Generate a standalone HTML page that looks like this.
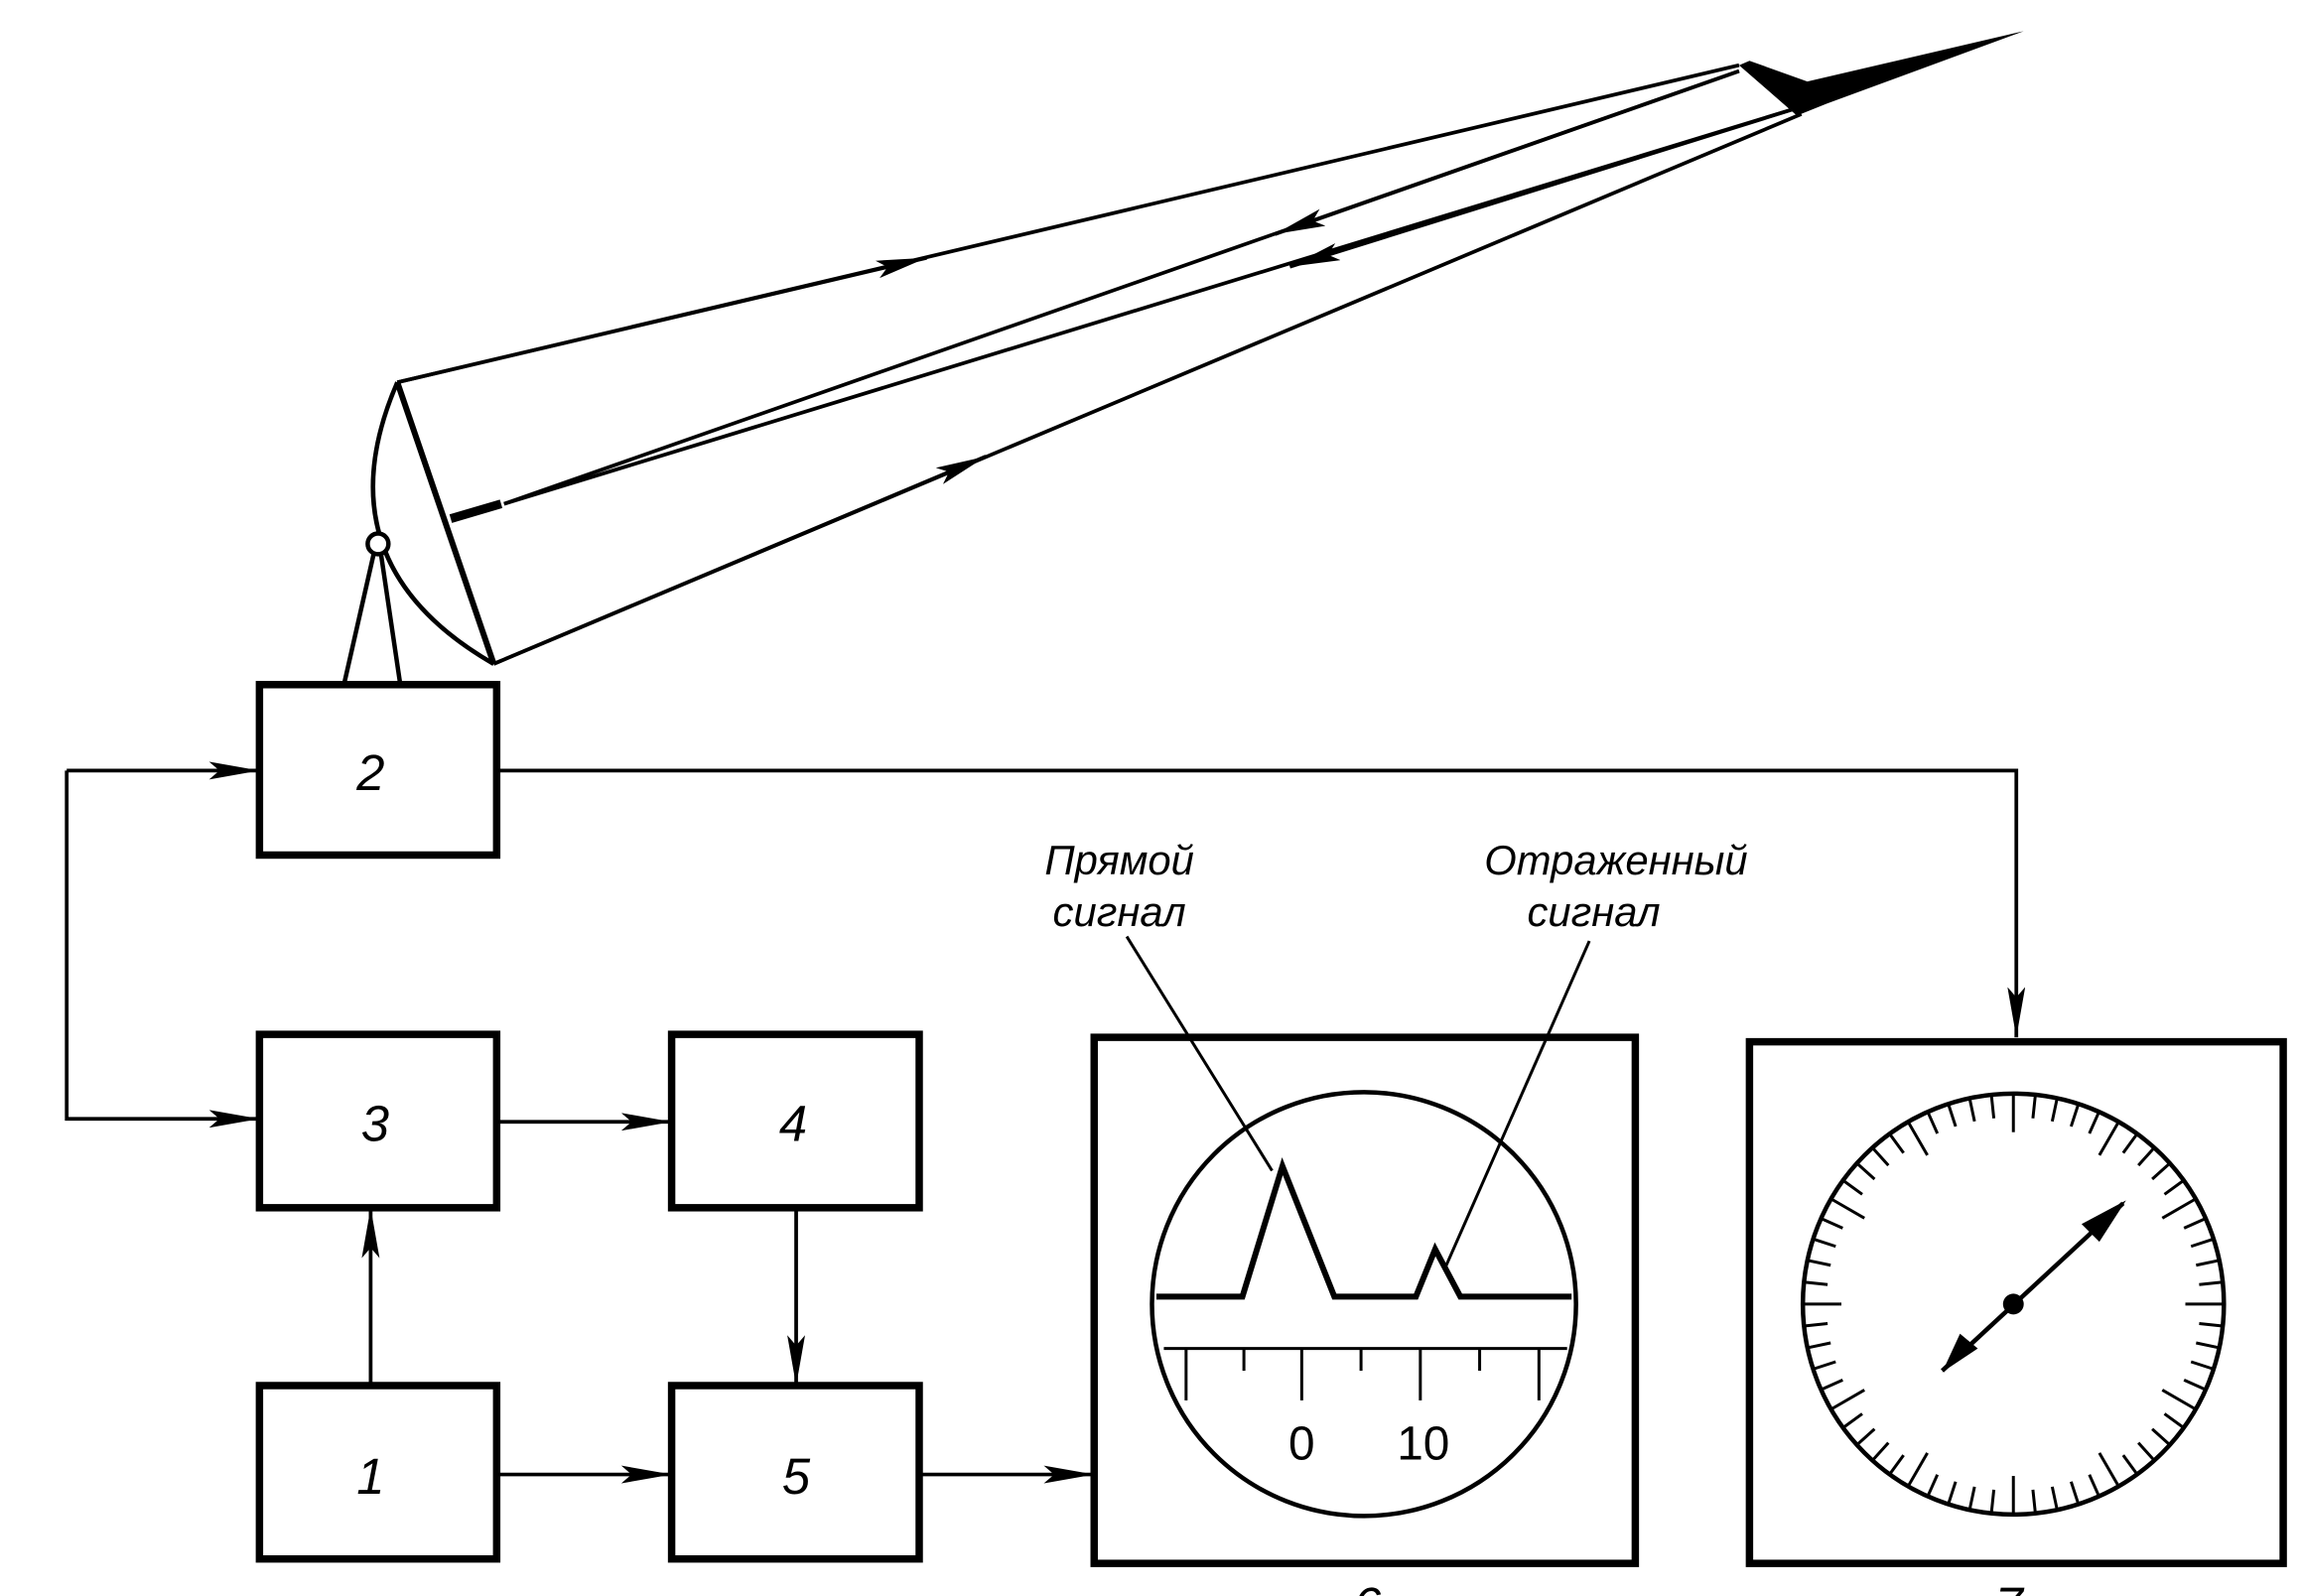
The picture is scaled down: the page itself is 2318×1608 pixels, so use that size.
<!DOCTYPE html>
<html><head><meta charset="utf-8"><style>html,body{margin:0;padding:0;background:#fff;overflow:hidden}svg{display:block}</style></head>
<body>
<svg width="2318" height="1608" viewBox="0 0 1552 1077" preserveAspectRatio="none" xmlns="http://www.w3.org/2000/svg">
<defs>
<marker id="a" viewBox="0 0 34 12" refX="34" refY="6" markerWidth="34" markerHeight="12" markerUnits="userSpaceOnUse" orient="auto">
<path d="M0,0 L34,6 L0,12 L7,6 Z" fill="#000"/></marker>
</defs>
<g fill="none" stroke="#000">
<g stroke-width="5">
<rect x="175" y="462" width="160" height="115"/>
<rect x="175" y="698" width="160" height="117"/>
<rect x="453" y="698" width="167" height="117"/>
<rect x="175" y="935" width="160" height="117"/>
<rect x="453" y="935" width="167" height="117"/>
<rect x="738" y="700" width="365" height="355"/>
<rect x="1180" y="703" width="360" height="352"/>
</g>
<g stroke-width="2.5">
<polyline points="335,520 1360,520 1360,700" marker-end="url(#a)"/>
<polyline points="45,520 175,520" marker-end="url(#a)"/>
<polyline points="45,520 45,755 175,755" marker-end="url(#a)"/>
<line x1="335" y1="757" x2="453" y2="757" marker-end="url(#a)"/>
<line x1="537" y1="815" x2="537" y2="935" marker-end="url(#a)"/>
<line x1="250" y1="935" x2="250" y2="815" marker-end="url(#a)"/>
<line x1="335" y1="995" x2="453" y2="995" marker-end="url(#a)"/>
<line x1="620" y1="995" x2="738" y2="995" marker-end="url(#a)"/>
<line x1="268" y1="258" x2="1173" y2="44"/>
<line x1="333" y1="448" x2="1215" y2="77"/>
<line x1="340" y1="340" x2="1173" y2="48"/>
<line x1="340" y1="340" x2="1215" y2="72"/>
<line x1="268" y1="258" x2="625" y2="174" marker-end="url(#a)"/>
<line x1="333" y1="448" x2="665" y2="308" marker-end="url(#a)"/>
<line x1="1173" y1="48" x2="860" y2="158" marker-end="url(#a)"/>
<line x1="1215" y1="72" x2="870" y2="180" marker-end="url(#a)"/>
</g>
<line x1="268" y1="258" x2="333" y2="448" stroke-width="4"/>
<path d="M268,258 Q215,380 333,448" stroke-width="3"/>
<circle cx="255" cy="367" r="7" stroke-width="3" fill="#fff"/>
<line x1="252" y1="374" x2="232" y2="462" stroke-width="3"/>
<line x1="257" y1="374" x2="270" y2="462" stroke-width="3"/>
<line x1="304" y1="350" x2="338" y2="340" stroke-width="6"/>
<circle cx="920" cy="880" r="143" stroke-width="3"/>
<polyline points="780,875 838,875 865,787 900,875 955,875 968,843 985,875 1060,875" stroke-width="4"/>
<line x1="785" y1="910" x2="1057" y2="910" stroke-width="2"/>
<g stroke-width="2">
<line x1="800" y1="910" x2="800" y2="945"/><line x1="839" y1="910" x2="839" y2="925"/>
<line x1="878" y1="910" x2="878" y2="945"/><line x1="918" y1="910" x2="918" y2="925"/>
<line x1="958" y1="910" x2="958" y2="945"/><line x1="998" y1="910" x2="998" y2="925"/>
<line x1="1038" y1="910" x2="1038" y2="945"/>
</g>
<line x1="760" y1="632" x2="858" y2="790" stroke-width="2"/>
<line x1="1072" y1="635" x2="975" y2="855" stroke-width="2"/>
<circle cx="1358" cy="880" r="142" stroke-width="3"/>
<g stroke-width="2">
<line x1="1358" y1="738" x2="1358" y2="764" transform="rotate(0 1358 880)"/>
<line x1="1358" y1="738" x2="1358" y2="754" transform="rotate(6 1358 880)"/>
<line x1="1358" y1="738" x2="1358" y2="754" transform="rotate(12 1358 880)"/>
<line x1="1358" y1="738" x2="1358" y2="754" transform="rotate(18 1358 880)"/>
<line x1="1358" y1="738" x2="1358" y2="754" transform="rotate(24 1358 880)"/>
<line x1="1358" y1="738" x2="1358" y2="764" transform="rotate(30 1358 880)"/>
<line x1="1358" y1="738" x2="1358" y2="754" transform="rotate(36 1358 880)"/>
<line x1="1358" y1="738" x2="1358" y2="754" transform="rotate(42 1358 880)"/>
<line x1="1358" y1="738" x2="1358" y2="754" transform="rotate(48 1358 880)"/>
<line x1="1358" y1="738" x2="1358" y2="754" transform="rotate(54 1358 880)"/>
<line x1="1358" y1="738" x2="1358" y2="764" transform="rotate(60 1358 880)"/>
<line x1="1358" y1="738" x2="1358" y2="754" transform="rotate(66 1358 880)"/>
<line x1="1358" y1="738" x2="1358" y2="754" transform="rotate(72 1358 880)"/>
<line x1="1358" y1="738" x2="1358" y2="754" transform="rotate(78 1358 880)"/>
<line x1="1358" y1="738" x2="1358" y2="754" transform="rotate(84 1358 880)"/>
<line x1="1358" y1="738" x2="1358" y2="764" transform="rotate(90 1358 880)"/>
<line x1="1358" y1="738" x2="1358" y2="754" transform="rotate(96 1358 880)"/>
<line x1="1358" y1="738" x2="1358" y2="754" transform="rotate(102 1358 880)"/>
<line x1="1358" y1="738" x2="1358" y2="754" transform="rotate(108 1358 880)"/>
<line x1="1358" y1="738" x2="1358" y2="754" transform="rotate(114 1358 880)"/>
<line x1="1358" y1="738" x2="1358" y2="764" transform="rotate(120 1358 880)"/>
<line x1="1358" y1="738" x2="1358" y2="754" transform="rotate(126 1358 880)"/>
<line x1="1358" y1="738" x2="1358" y2="754" transform="rotate(132 1358 880)"/>
<line x1="1358" y1="738" x2="1358" y2="754" transform="rotate(138 1358 880)"/>
<line x1="1358" y1="738" x2="1358" y2="754" transform="rotate(144 1358 880)"/>
<line x1="1358" y1="738" x2="1358" y2="764" transform="rotate(150 1358 880)"/>
<line x1="1358" y1="738" x2="1358" y2="754" transform="rotate(156 1358 880)"/>
<line x1="1358" y1="738" x2="1358" y2="754" transform="rotate(162 1358 880)"/>
<line x1="1358" y1="738" x2="1358" y2="754" transform="rotate(168 1358 880)"/>
<line x1="1358" y1="738" x2="1358" y2="754" transform="rotate(174 1358 880)"/>
<line x1="1358" y1="738" x2="1358" y2="764" transform="rotate(180 1358 880)"/>
<line x1="1358" y1="738" x2="1358" y2="754" transform="rotate(186 1358 880)"/>
<line x1="1358" y1="738" x2="1358" y2="754" transform="rotate(192 1358 880)"/>
<line x1="1358" y1="738" x2="1358" y2="754" transform="rotate(198 1358 880)"/>
<line x1="1358" y1="738" x2="1358" y2="754" transform="rotate(204 1358 880)"/>
<line x1="1358" y1="738" x2="1358" y2="764" transform="rotate(210 1358 880)"/>
<line x1="1358" y1="738" x2="1358" y2="754" transform="rotate(216 1358 880)"/>
<line x1="1358" y1="738" x2="1358" y2="754" transform="rotate(222 1358 880)"/>
<line x1="1358" y1="738" x2="1358" y2="754" transform="rotate(228 1358 880)"/>
<line x1="1358" y1="738" x2="1358" y2="754" transform="rotate(234 1358 880)"/>
<line x1="1358" y1="738" x2="1358" y2="764" transform="rotate(240 1358 880)"/>
<line x1="1358" y1="738" x2="1358" y2="754" transform="rotate(246 1358 880)"/>
<line x1="1358" y1="738" x2="1358" y2="754" transform="rotate(252 1358 880)"/>
<line x1="1358" y1="738" x2="1358" y2="754" transform="rotate(258 1358 880)"/>
<line x1="1358" y1="738" x2="1358" y2="754" transform="rotate(264 1358 880)"/>
<line x1="1358" y1="738" x2="1358" y2="764" transform="rotate(270 1358 880)"/>
<line x1="1358" y1="738" x2="1358" y2="754" transform="rotate(276 1358 880)"/>
<line x1="1358" y1="738" x2="1358" y2="754" transform="rotate(282 1358 880)"/>
<line x1="1358" y1="738" x2="1358" y2="754" transform="rotate(288 1358 880)"/>
<line x1="1358" y1="738" x2="1358" y2="754" transform="rotate(294 1358 880)"/>
<line x1="1358" y1="738" x2="1358" y2="764" transform="rotate(300 1358 880)"/>
<line x1="1358" y1="738" x2="1358" y2="754" transform="rotate(306 1358 880)"/>
<line x1="1358" y1="738" x2="1358" y2="754" transform="rotate(312 1358 880)"/>
<line x1="1358" y1="738" x2="1358" y2="754" transform="rotate(318 1358 880)"/>
<line x1="1358" y1="738" x2="1358" y2="754" transform="rotate(324 1358 880)"/>
<line x1="1358" y1="738" x2="1358" y2="764" transform="rotate(330 1358 880)"/>
<line x1="1358" y1="738" x2="1358" y2="754" transform="rotate(336 1358 880)"/>
<line x1="1358" y1="738" x2="1358" y2="754" transform="rotate(342 1358 880)"/>
<line x1="1358" y1="738" x2="1358" y2="754" transform="rotate(348 1358 880)"/>
<line x1="1358" y1="738" x2="1358" y2="754" transform="rotate(354 1358 880)"/>
</g>
<line x1="1310" y1="925" x2="1432" y2="812" stroke-width="3"/>
</g>
<path d="M1310,926 L1322,900 L1334,910 Z" fill="#000"/>
<path d="M1434,810 L1404,826 L1416,838 Z" fill="#000"/>
<circle cx="1358" cy="880" r="7" fill="#000"/>
<path d="M1173,44 L1180,41 L1219,55 L1365,21 L1232,70 L1212,78 Z" fill="#000"/>
<g font-family="'Liberation Sans', sans-serif" font-style="italic" fill="#000">
<text x="250" y="533" font-size="34" text-anchor="middle">2</text>
<text x="253" y="770" font-size="34" text-anchor="middle">3</text>
<text x="535" y="770" font-size="34" text-anchor="middle">4</text>
<text x="250" y="1008" font-size="34" text-anchor="middle">1</text>
<text x="537" y="1008" font-size="34" text-anchor="middle">5</text>
<text x="755" y="590" font-size="28" text-anchor="middle">Прямой</text>
<text x="755" y="625" font-size="28" text-anchor="middle">сигнал</text>
<text x="1090" y="590" font-size="28" text-anchor="middle">Отраженный</text>
<text x="1075" y="625" font-size="28" text-anchor="middle">сигнал</text>
<text x="922" y="1095" font-size="34" text-anchor="middle">6</text>
<text x="1355" y="1095" font-size="34" text-anchor="middle">7</text>
</g>
<g font-family="'Liberation Sans', sans-serif" fill="#000" font-size="32" text-anchor="middle">
<text x="878" y="985">0</text><text x="960" y="985">10</text>
</g>
</svg>
</body></html>
